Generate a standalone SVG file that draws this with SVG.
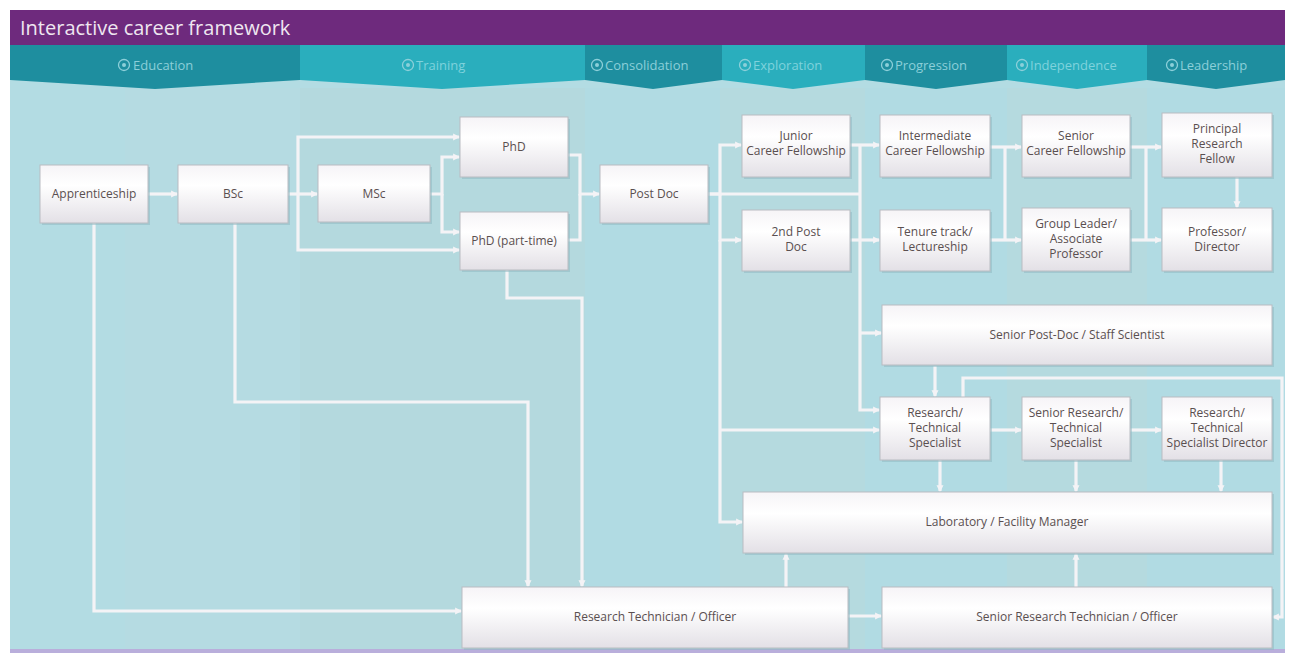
<svg xmlns="http://www.w3.org/2000/svg" width="1290" height="655" viewBox="0 0 1290 655">
<style>
.node rect.box{fill:url(#ng);stroke:#b9bcc2;stroke-width:1}
.node rect.sh{fill:#8fb9c2;opacity:0.55}
.node text{font-family:"Open Sans","Liberation Sans",sans-serif;font-size:12px;fill:#5a4f50;text-anchor:middle}
.conn path{fill:none;stroke:#f4f3f6;stroke-width:3.2;stroke-linejoin:miter}
.tab text{font-family:"Open Sans","Liberation Sans",sans-serif;font-size:13px;fill:#8ccfd9}
.tab.l text{fill:#7fd2dc}
.tab circle{fill:none;stroke:#8ccfd9;stroke-width:1.3}
.tab circle.d{fill:#8ccfd9;stroke:none}
</style>
<defs>
<linearGradient id="ng" x1="0" y1="0" x2="0" y2="1">
<stop offset="0" stop-color="#f6f4f7"/>
<stop offset="0.35" stop-color="#ffffff"/>
<stop offset="1" stop-color="#e3e0e6"/>
</linearGradient>
<marker id="ar" viewBox="0 0 6 6" refX="5" refY="3" markerWidth="2.2" markerHeight="2.2" orient="auto" markerUnits="strokeWidth">
<path d="M0,0 L6,3 L0,6 z" fill="#f4f3f6"/>
</marker>
</defs>
<rect x="0" y="0" width="1290" height="655" fill="#ffffff"/>
<!-- background columns -->
<rect x="10" y="80" width="1275" height="570" fill="#b3dce3"/>
<rect x="125" y="88" width="175" height="562" fill="#b5dbe2"/>
<rect x="300" y="88" width="285" height="562" fill="#b4d9de"/>
<rect x="585" y="88" width="135" height="562" fill="#b1dbe3"/>
<rect x="720" y="88" width="145" height="562" fill="#b5dadf"/>
<rect x="865" y="88" width="142" height="562" fill="#b1dbe3"/>
<rect x="1007" y="88" width="140" height="562" fill="#b5dadf"/>
<rect x="1147" y="88" width="138" height="562" fill="#b1dbe3"/>
<rect x="10" y="649" width="1275" height="4" fill="#b9aedb"/>
<!-- header -->
<rect x="10" y="10" width="1275" height="35" fill="#6e2a7d"/>
<text x="20" y="35" font-family="'Open Sans','Liberation Sans',sans-serif" font-size="20" fill="#efe6f0">Interactive career framework</text>
<!-- tabs -->
<g id="tabs">
<g class="tab" id="tab-education"><polygon points="10,45 300,45 300,80 155,89 10,80" fill="#1e8e9f"/><circle cx="124" cy="65" r="5.5"/><circle class="d" cx="124" cy="65" r="2"/><text x="133" y="70">Education</text></g>
<g class="tab l" id="tab-training"><polygon points="300,45 585,45 585,80 442,89 300,80" fill="#2aaebd"/><circle cx="408" cy="65" r="5.5"/><circle class="d" cx="408" cy="65" r="2"/><text x="416" y="70">Training</text></g>
<g class="tab" id="tab-consolidation"><polygon points="585,45 722,45 722,80 653,89 585,80" fill="#1e8e9f"/><circle cx="597" cy="65" r="5.5"/><circle class="d" cx="597" cy="65" r="2"/><text x="605" y="70">Consolidation</text></g>
<g class="tab l" id="tab-exploration"><polygon points="722,45 865,45 865,80 793,89 722,80" fill="#2aaebd"/><circle cx="745" cy="65" r="5.5"/><circle class="d" cx="745" cy="65" r="2"/><text x="753" y="70">Exploration</text></g>
<g class="tab" id="tab-progression"><polygon points="865,45 1007,45 1007,80 936,89 865,80" fill="#1e8e9f"/><circle cx="887" cy="65" r="5.5"/><circle class="d" cx="887" cy="65" r="2"/><text x="895" y="70">Progression</text></g>
<g class="tab l" id="tab-independence"><polygon points="1007,45 1147,45 1147,80 1077,89 1007,80" fill="#2aaebd"/><circle cx="1022" cy="65" r="5.5"/><circle class="d" cx="1022" cy="65" r="2"/><text x="1030" y="70">Independence</text></g>
<g class="tab" id="tab-leadership"><polygon points="1147,45 1285,45 1285,80 1216,89 1147,80" fill="#1e8e9f"/><circle cx="1172" cy="65" r="5.5"/><circle class="d" cx="1172" cy="65" r="2"/><text x="1180" y="70">Leadership</text></g>
</g>
<!-- connectors -->
<g id="connectors" class="conn">
<path d="M148,194 H177" marker-end="url(#ar)"/>
<path d="M288,194 H317" marker-end="url(#ar)"/>
<path d="M298,194 V137 H459" marker-end="url(#ar)"/>
<path d="M298,194 V250 H459" marker-end="url(#ar)"/>
<path d="M430,194 H442 V157 H459" marker-end="url(#ar)"/>
<path d="M442,194 V232 H459" marker-end="url(#ar)"/>
<path d="M568,155 H580 V194 H599" marker-end="url(#ar)"/>
<path d="M568,240 H580 V194"/>
<path d="M708,194 H720 V145 H741" marker-end="url(#ar)"/>
<path d="M720,194 V240 H741" marker-end="url(#ar)"/>
<path d="M720,240 V522 H742" marker-end="url(#ar)"/>
<path d="M720,430 H879" marker-end="url(#ar)"/>
<path d="M708,194 H860"/>
<path d="M850,145 H879" marker-end="url(#ar)"/>
<path d="M850,240 H879" marker-end="url(#ar)"/>
<path d="M860,145 V410 H879" marker-end="url(#ar)"/>
<path d="M860,333 H881" marker-end="url(#ar)"/>
<path d="M990,147 H1021" marker-end="url(#ar)"/>
<path d="M990,240 H1021" marker-end="url(#ar)"/>
<path d="M1005,147 V240"/>
<path d="M1130,147 H1161" marker-end="url(#ar)"/>
<path d="M1130,240 H1161" marker-end="url(#ar)"/>
<path d="M1146,147 V240"/>
<path d="M1237,177 V207" marker-end="url(#ar)"/>
<path d="M935,366 V396" marker-end="url(#ar)"/>
<path d="M963,397 V378 H1282 V617 H1273" marker-end="url(#ar)"/>
<path d="M990,430 H1021" marker-end="url(#ar)"/>
<path d="M1130,430 H1161" marker-end="url(#ar)"/>
<path d="M940,460 V491" marker-end="url(#ar)"/>
<path d="M1076,460 V491" marker-end="url(#ar)"/>
<path d="M1221,460 V491" marker-end="url(#ar)"/>
<path d="M786,587 V554" marker-end="url(#ar)"/>
<path d="M1076,587 V554" marker-end="url(#ar)"/>
<path d="M848,616 H881" marker-end="url(#ar)"/>
<path d="M94,223 V611 H461" marker-end="url(#ar)"/>
<path d="M235,223 V402 H528 V586" marker-end="url(#ar)"/>
<path d="M507,270 V298 H582 V586" marker-end="url(#ar)"/>
</g>
<!-- nodes -->
<g id="n-apprenticeship" class="node"><rect class="sh" x="42" y="167" width="108" height="58"/><rect class="box" x="40" y="165" width="108" height="58"/><text x="94" y="198">Apprenticeship</text></g>
<g id="n-bsc" class="node"><rect class="sh" x="180" y="167" width="110" height="58"/><rect class="box" x="178" y="165" width="110" height="58"/><text x="233" y="198">BSc</text></g>
<g id="n-msc" class="node"><rect class="sh" x="320" y="167" width="112" height="57"/><rect class="box" x="318" y="165" width="112" height="57"/><text x="374" y="198">MSc</text></g>
<g id="n-phd" class="node"><rect class="sh" x="462" y="119" width="108" height="60"/><rect class="box" x="460" y="117" width="108" height="60"/><text x="514" y="151">PhD</text></g>
<g id="n-phd-pt" class="node"><rect class="sh" x="462" y="214" width="108" height="58"/><rect class="box" x="460" y="212" width="108" height="58"/><text x="514" y="245">PhD (part-time)</text></g>
<g id="n-postdoc" class="node"><rect class="sh" x="602" y="167" width="108" height="58"/><rect class="box" x="600" y="165" width="108" height="58"/><text x="654" y="198">Post Doc</text></g>
<g id="n-junior" class="node"><rect class="sh" x="744" y="117" width="108" height="62"/><rect class="box" x="742" y="115" width="108" height="62"/><text x="796" y="140">Junior</text><text x="796" y="155">Career Fellowship</text></g>
<g id="n-2ndpd" class="node"><rect class="sh" x="744" y="212" width="108" height="61"/><rect class="box" x="742" y="210" width="108" height="61"/><text x="796" y="236">2nd Post</text><text x="796" y="251">Doc</text></g>
<g id="n-intermediate" class="node"><rect class="sh" x="882" y="117" width="110" height="62"/><rect class="box" x="880" y="115" width="110" height="62"/><text x="935" y="140">Intermediate</text><text x="935" y="155">Career Fellowship</text></g>
<g id="n-tenure" class="node"><rect class="sh" x="882" y="212" width="110" height="61"/><rect class="box" x="880" y="210" width="110" height="61"/><text x="935" y="236">Tenure track/</text><text x="935" y="251">Lectureship</text></g>
<g id="n-senior-cf" class="node"><rect class="sh" x="1024" y="117" width="108" height="62"/><rect class="box" x="1022" y="115" width="108" height="62"/><text x="1076" y="140">Senior</text><text x="1076" y="155">Career Fellowship</text></g>
<g id="n-groupleader" class="node"><rect class="sh" x="1024" y="210" width="108" height="63"/><rect class="box" x="1022" y="208" width="108" height="63"/><text x="1076" y="228">Group Leader/</text><text x="1076" y="243">Associate</text><text x="1076" y="258">Professor</text></g>
<g id="n-principal" class="node"><rect class="sh" x="1164" y="115" width="110" height="64"/><rect class="box" x="1162" y="113" width="110" height="64"/><text x="1217" y="133">Principal</text><text x="1217" y="148">Research</text><text x="1217" y="163">Fellow</text></g>
<g id="n-professor" class="node"><rect class="sh" x="1164" y="210" width="110" height="63"/><rect class="box" x="1162" y="208" width="110" height="63"/><text x="1217" y="236">Professor/</text><text x="1217" y="251">Director</text></g>
<g id="n-senior-postdoc" class="node"><rect class="sh" x="884" y="307" width="390" height="60"/><rect class="box" x="882" y="305" width="390" height="60"/><text x="1077" y="339">Senior Post-Doc / Staff Scientist</text></g>
<g id="n-rts" class="node"><rect class="sh" x="882" y="399" width="110" height="63"/><rect class="box" x="880" y="397" width="110" height="63"/><text x="935" y="417">Research/</text><text x="935" y="432">Technical</text><text x="935" y="447">Specialist</text></g>
<g id="n-srts" class="node"><rect class="sh" x="1024" y="399" width="108" height="63"/><rect class="box" x="1022" y="397" width="108" height="63"/><text x="1076" y="417">Senior Research/</text><text x="1076" y="432">Technical</text><text x="1076" y="447">Specialist</text></g>
<g id="n-rtsd" class="node"><rect class="sh" x="1164" y="399" width="110" height="63"/><rect class="box" x="1162" y="397" width="110" height="63"/><text x="1217" y="417">Research/</text><text x="1217" y="432">Technical</text><text x="1217" y="447" font-size="11">Specialist Director</text></g>
<g id="n-labmanager" class="node"><rect class="sh" x="745" y="494" width="529" height="61"/><rect class="box" x="743" y="492" width="529" height="61"/><text x="1007" y="526">Laboratory / Facility Manager</text></g>
<g id="n-restech" class="node"><rect class="sh" x="464" y="589" width="386" height="61"/><rect class="box" x="462" y="587" width="386" height="61"/><text x="655" y="621">Research Technician / Officer</text></g>
<g id="n-srestech" class="node"><rect class="sh" x="884" y="589" width="390" height="61"/><rect class="box" x="882" y="587" width="390" height="61"/><text x="1077" y="621">Senior Research Technician / Officer</text></g>
</svg>
